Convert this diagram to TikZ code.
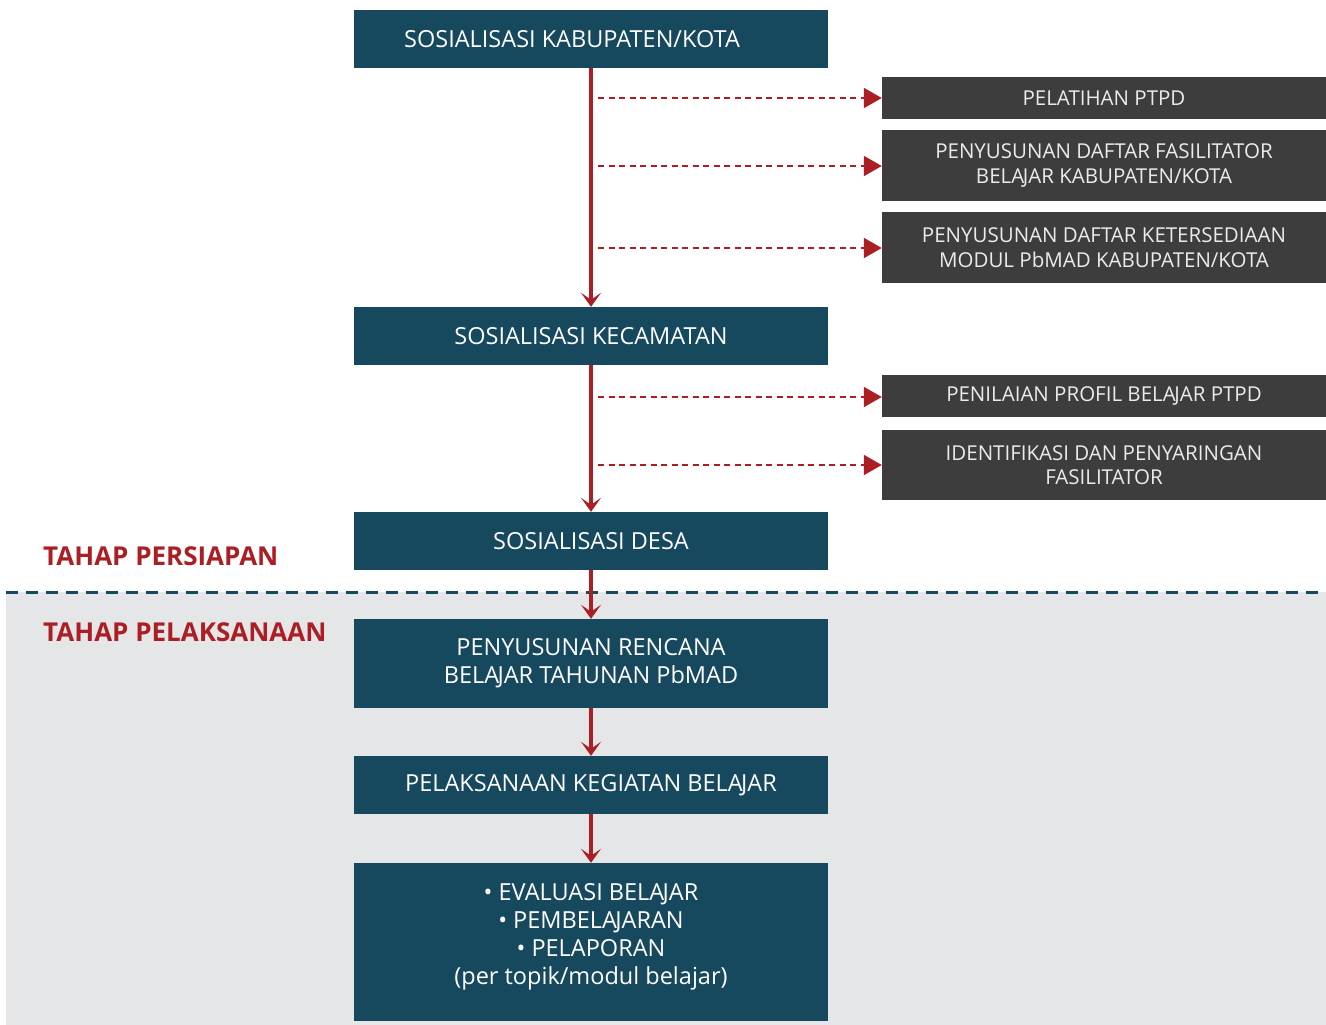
\documentclass[tikz,border=0pt]{standalone}
\usepackage{fontspec}
\setmainfont{Open Sans}
\usetikzlibrary{arrows.meta}
\definecolor{teal}{RGB}{23,73,94}
\definecolor{dgrey}{RGB}{61,61,61}
\definecolor{ared}{RGB}{171,31,36}
\definecolor{bggrey}{RGB}{229,230,232}
\newcommand\LAJ{LA\kern-0.07em JA}
\begin{document}
\begin{tikzpicture}[x=1pt,y=-1pt,
  mainbox/.style={fill=teal,text=white,minimum width=474pt,align=center,font=\fontsize{23.5}{28}\selectfont,inner sep=0pt},
  sidebox/.style={fill=dgrey,text=white!92!black,minimum width=444pt,align=center,font=\fontsize{20.5}{24.5}\selectfont,inner sep=0pt},
  flow/.style={draw=ared,line width=4pt,-{Stealth[length=14pt,width=20pt,inset=7pt]}},
  side/.style={draw=ared,line width=2pt,dash pattern=on 6pt off 4.5pt,-{Triangle[length=18pt,width=20pt]}},
  phase/.style={text=ared,font=\bfseries\fontsize{26}{28}\selectfont,anchor=west,inner sep=0pt}]
\useasboundingbox (0,0) rectangle (1326,1025);
\fill[white] (0,0) rectangle (1326,1025);
\fill[bggrey] (6,592) rectangle (1326,1025);
\draw[teal,line width=3pt,dash pattern=on 12pt off 8pt] (6,592) -- (1326,592);

\node[mainbox,minimum height=58pt] (b1) at (591,39) {\hspace*{-38pt}SOSIALISASI KABUPATEN/KOTA};
\node[mainbox,minimum height=58pt] (b2) at (591,336) {SOSIALISASI KECAMATAN};
\node[mainbox,minimum height=58pt] (b3) at (591,541) {SOSIALISASI DESA};
\node[mainbox,minimum height=89pt] (b4) at (591,663.5) {PENYUSUNAN RENCANA\\BE\LAJ R TAHUNAN PbMAD};
\node[mainbox,minimum height=58pt] (b5) at (591,785) {PELAKSANAAN KEGIATAN BE\LAJ R};
\node[mainbox,minimum height=158pt] (b6) at (591,942) {• EVALUASI BE\LAJ R\\• PEMBE\LAJ RAN\\• PELAPORAN\\(per topik/modul belajar)\\[-12pt]\mbox{}};

\node[sidebox,minimum height=42pt] (s1) at (1104,98) {PELATIHAN PTPD};
\node[sidebox,minimum height=71pt] (s2) at (1104,165.5) {PENYUSUNAN DAFTAR FASILITATOR\\BE\LAJ R KABUPATEN/KOTA};
\node[sidebox,minimum height=71pt] (s3) at (1104,247.5) {PENYUSUNAN DAFTAR KETERSEDIAAN\\MODUL PbMAD KABUPATEN/KOTA};
\node[sidebox,minimum height=42pt] (s4) at (1104,396) {PENILAIAN PROFIL BE\LAJ R PTPD};
\node[sidebox,minimum height=70pt] (s5) at (1104,465) {IDENTIFIKASI DAN PENYARINGAN\\FASILITATOR};

\node[phase] (p1) at (43,556) {TAHAP PERSIAPAN};
\node[phase] (p2) at (43,632) {TAHAP PELAKSANAAN};

\draw[flow] (b1.south) -- (b2.north);
\draw[flow] (b2.south) -- (b3.north);
\draw[flow] (b3.south) -- (b4.north);
\draw[flow] (b4.south) -- (b5.north);
\draw[flow] (b5.south) -- (b6.north);

\coordinate (c1) at (598,98);
\coordinate (c2) at (598,166);
\coordinate (c3) at (598,248);
\coordinate (c4) at (598,397);
\coordinate (c5) at (598,465);
\draw[side] (c1) -- (s1.west |- c1);
\draw[side] (c2) -- (s2.west |- c2);
\draw[side] (c3) -- (s3.west |- c3);
\draw[side] (c4) -- (s4.west |- c4);
\draw[side] (c5) -- (s5.west |- c5);
\end{tikzpicture}
\end{document}
